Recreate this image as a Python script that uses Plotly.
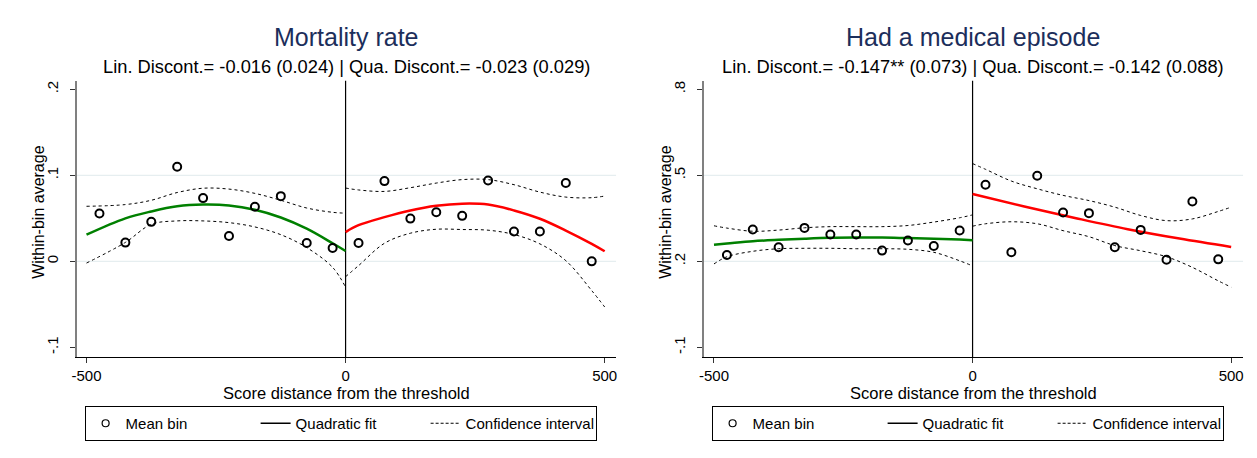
import plotly.graph_objects as go

# ---------------- data ----------------
bins_left = [-475, -425, -375, -325, -275, -225, -175, -125, -75, -25]
bins_right = [25, 75, 125, 175, 225, 275, 325, 375, 425, 475]

# Panel 1: Mortality rate
mort_mean_left = [0.0556, 0.0218, 0.0459, 0.110, 0.0735, 0.0295, 0.0634, 0.0758, 0.0214, 0.0155]
mort_mean_right = [0.0214, 0.0933, 0.0497, 0.0571, 0.0529, 0.094, 0.0346, 0.0346, 0.091, 0.0]

mort_fit_x_left = [-500, -425, -375, -325, -275, -225, -175, -125, -75, -25, 0]
mort_fit_left = [0.031, 0.050, 0.058, 0.064, 0.066, 0.065, 0.060, 0.051, 0.038, 0.021, 0.012]
mort_ciu_left = [0.064, 0.066, 0.071, 0.080, 0.085, 0.084, 0.079, 0.071, 0.062, 0.057, 0.056]
mort_cil_left = [-0.002, 0.022, 0.043, 0.047, 0.047, 0.045, 0.040, 0.031, 0.016, -0.007, -0.030]

mort_fit_x_right = [0, 25, 75, 125, 175, 225, 275, 325, 375, 425, 475, 500]
mort_fit_right = [0.034, 0.042, 0.0514, 0.0592, 0.0646, 0.067, 0.066, 0.0592, 0.0495, 0.0358, 0.0203, 0.0117]
mort_ciu_right = [0.0852, 0.083, 0.0813, 0.0856, 0.091, 0.095, 0.095, 0.0891, 0.0805, 0.0747, 0.074, 0.0759]
mort_cil_right = [-0.0178, -0.005, 0.021, 0.0327, 0.0373, 0.037, 0.0362, 0.0312, 0.0203, 0.0008, -0.034, -0.053]

# Panel 2: Had a medical episode
med_mean_left = [0.2222, 0.3109, 0.249, 0.3167, 0.2934, 0.2934, 0.2374, 0.2724, 0.2537, 0.3074]
med_mean_right = [0.4673, 0.2315, 0.4988, 0.3704, 0.3681, 0.249, 0.3097, 0.2058, 0.409, 0.207]

med_fit_x_left = [-500, -475, -425, -375, -325, -275, -225, -175, -125, -75, -25, 0]
med_fit_left = [0.258, 0.262, 0.270, 0.275, 0.279, 0.282, 0.283, 0.283, 0.281, 0.279, 0.276, 0.274]
med_ciu_left = [0.324, 0.316, 0.305, 0.309, 0.317, 0.321, 0.321, 0.321, 0.325, 0.337, 0.352, 0.362]
med_cil_left = [0.191, 0.216, 0.235, 0.244, 0.2455, 0.2455, 0.244, 0.244, 0.242, 0.2315, 0.202, 0.184]

med_fit_x_right = [0, 100, 200, 300, 400, 500]
med_fit_right = [0.4346, 0.3914, 0.3506, 0.3121, 0.2794, 0.2502]
med_ci_x_right = [0, 25, 75, 125, 175, 225, 275, 325, 375, 425, 475, 500]
med_ciu_right = [0.541, 0.521, 0.480, 0.453, 0.430, 0.412, 0.389, 0.360, 0.342, 0.348, 0.374, 0.389]
med_cil_right = [0.3226, 0.331, 0.338, 0.331, 0.307, 0.286, 0.255, 0.237, 0.216, 0.179, 0.132, 0.110]

titles = ["Mortality rate", "Had a medical episode"]
subtitles = ["Lin. Discont.= -0.016 (0.024) | Qua. Discont.= -0.023 (0.029)",
             "Lin. Discont.= -0.147** (0.073) | Qua. Discont.= -0.142 (0.088)"]
x_title = "Score distance from the threshold"
y_title = "Within-bin average"
x_ticks = [-500, 0, 500]
x_ticktext = ["-500", "0", "500"]
y_ticks_1 = [-0.1, 0, 0.1, 0.2]
y_ticktext_1 = ["-.1", "0", ".1", ".2"]
y_ticks_2 = [-0.1, 0.2, 0.5, 0.8]
y_ticktext_2 = ["-.1", ".2", ".5", ".8"]
grid_1 = [0, 0.1]
grid_2 = [0.2, 0.5]
legend_labels = ["Mean bin", "Quadratic fit", "Confidence interval"]

# ---------------- styling ----------------
FONT = "Liberation Sans, Arial, sans-serif"
GREEN = "rgb(0,128,0)"
RED = "rgb(255,0,0)"
TITLE_COLOR = "#1c2e5b"
W, H = 1257, 458

fig = go.Figure()

def add_panel(xa, ya, mean_l, mean_r, fxl, fl, ciul, cill, fxr, fr, cxr, ciur, cilr):
    for xs, ys in [(fxl, ciul), (fxl, cill), (cxr, ciur), (cxr, cilr)]:
        fig.add_trace(go.Scatter(x=xs, y=ys, mode="lines",
                                 line=dict(color="black", width=1, dash="3px,3px", shape="spline"),
                                 xaxis=xa, yaxis=ya, showlegend=False, hoverinfo="skip"))
    fig.add_trace(go.Scatter(x=fxl, y=fl, mode="lines", line=dict(color=GREEN, width=2.5, shape="spline"),
                             xaxis=xa, yaxis=ya, showlegend=False))
    fig.add_trace(go.Scatter(x=fxr, y=fr, mode="lines", line=dict(color=RED, width=2.5, shape="spline"),
                             xaxis=xa, yaxis=ya, showlegend=False))
    fig.add_trace(go.Scatter(x=bins_left + bins_right, y=mean_l + mean_r, mode="markers",
                             marker=dict(symbol="circle-open", color="black", size=8, line=dict(width=2)),
                             xaxis=xa, yaxis=ya, showlegend=False))

add_panel("x", "y", mort_mean_left, mort_mean_right, mort_fit_x_left, mort_fit_left, mort_ciu_left, mort_cil_left,
          mort_fit_x_right, mort_fit_right, mort_fit_x_right, mort_ciu_right, mort_cil_right)
add_panel("x2", "y2", med_mean_left, med_mean_right, med_fit_x_left, med_fit_left, med_ciu_left, med_cil_left,
          med_fit_x_right, med_fit_right, med_ci_x_right, med_ciu_right, med_cil_right)

# legend entries (one legend per panel)
for lg, xa, ya in [("legend", "x", "y"), ("legend2", "x2", "y2")]:
    fig.add_trace(go.Scatter(x=[None], y=[None], mode="markers", name=legend_labels[0],
                             marker=dict(symbol="circle-open", color="black", size=7, line=dict(width=1.2)),
                             legend=lg, xaxis=xa, yaxis=ya))
    fig.add_trace(go.Scatter(x=[None], y=[None], mode="lines", name=legend_labels[1],
                             line=dict(color="black", width=1.5), legend=lg, xaxis=xa, yaxis=ya))
    fig.add_trace(go.Scatter(x=[None], y=[None], mode="lines", name=legend_labels[2],
                             line=dict(color="black", width=1, dash="3px,2px"), legend=lg, xaxis=xa, yaxis=ya))

# plot region positions (px)
L1, R1 = 72, 614
L2, R2 = 702, 1244
TOP, BOT = 80.7, 357

dom1 = [L1 / W, R1 / W]
dom2 = [L2 / W, R2 / W]
ydom = [(H - BOT) / H, (H - TOP) / H]

axis_common = dict(showgrid=False, zeroline=False, ticks="outside", ticklen=5, tickcolor="#333",
                   tickfont=dict(size=15, color="black", family=FONT), showline=True)
xtitle = dict(text=x_title, font=dict(size=16.5), standoff=0)

legend_common = dict(orientation="h", xanchor="left", y=(H - 406) / H, yanchor="top",
                     bordercolor="black", borderwidth=1, font=dict(size=15, family=FONT),
                     entrywidth=125, entrywidthmode="pixels", itemclick=False, tracegroupgap=0)

fig.update_layout(
    width=W, height=H,
    margin=dict(l=0, r=0, t=0, b=0),
    paper_bgcolor="white", plot_bgcolor="white",
    font=dict(family=FONT, color="black"),
    xaxis=dict(domain=dom1, anchor="y", range=[-519, 522], tickvals=x_ticks, ticktext=x_ticktext,
               linecolor="black", linewidth=1.2, title=xtitle, **axis_common),
    yaxis=dict(domain=ydom, anchor="x", range=[-0.1112, 0.21], tickvals=y_ticks_1, ticktext=y_ticktext_1,
               tickangle=-90, linecolor="#808080", linewidth=2, ticklabelstandoff=6, **axis_common),
    xaxis2=dict(domain=dom2, anchor="y2", range=[-520, 523], tickvals=x_ticks, ticktext=x_ticktext,
                linecolor="black", linewidth=1.2, title=xtitle, **axis_common),
    yaxis2=dict(domain=ydom, anchor="x2", range=[-0.1336, 0.83], tickvals=y_ticks_2, ticktext=y_ticktext_2,
                tickangle=-90, linecolor="#808080", linewidth=2, ticklabelstandoff=6, **axis_common),
    legend=dict(x=80 / W, **legend_common),
    legend2=dict(x=710 / W, **legend_common),
    showlegend=True,
)

shapes = []
for xa, ya, grid in [("x", "y", grid_1), ("x2", "y2", grid_2)]:
    for g in grid:
        shapes.append(dict(type="line", xref=f"{xa} domain", yref=ya, x0=0, x1=1, y0=g, y1=g,
                           line=dict(color="#e6eef0", width=1.2), layer="below"))
    shapes.append(dict(type="line", xref=xa, yref=f"{ya} domain", x0=0, x1=0, y0=0, y1=1,
                       line=dict(color="black", width=1.2), layer="below"))
fig.update_layout(shapes=shapes)

annotations = []
for dom, t, s, yt_x in [(dom1, titles[0], subtitles[0], 33), (dom2, titles[1], subtitles[1], 663)]:
    cx = (dom[0] + dom[1]) / 2
    annotations.append(dict(text=t, x=cx, y=(H - 37) / H, xref="paper", yref="paper", showarrow=False,
                            xanchor="center", yanchor="middle", font=dict(size=25, color=TITLE_COLOR, family=FONT)))
    annotations.append(dict(text=s, x=cx, y=(H - 67) / H, xref="paper", yref="paper", showarrow=False,
                            xanchor="center", yanchor="middle", font=dict(size=18.3, color="black", family=FONT)))
    # y axis title
    annotations.append(dict(text=y_title, x=yt_x / W, y=(H - 212) / H, xref="paper", yref="paper",
                            showarrow=False, textangle=-90, xanchor="center", yanchor="middle",
                            font=dict(size=16, color="black", family=FONT)))
fig.update_layout(annotations=annotations)

fig.write_html("out.html")
